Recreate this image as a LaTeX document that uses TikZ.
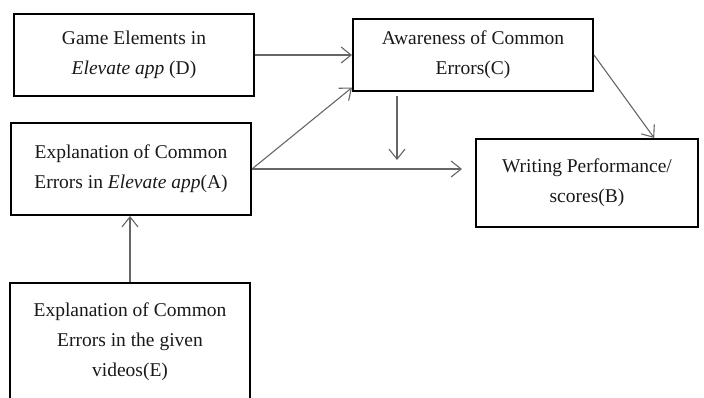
\documentclass[tikz,border=0pt]{standalone}
\usepackage{fontspec}
\setmainfont{Liberation Serif}
\usetikzlibrary{arrows.meta, calc}

\begin{document}
\begin{tikzpicture}[x=1pt, y=-1pt,
  box/.style={draw=black, line width=2pt, align=center, inner sep=0pt,
    text=black!90, font=\fontsize{19.5}{30}\selectfont},
  arr/.style={draw=black!60, line width=1.1pt, -{Straight Barb[length=10pt,width=16pt]}}]
\useasboundingbox (0,0) rectangle (704,397);
\clip (0,0) rectangle (704,397);
\node[box, minimum width=240, minimum height=82] (d) at (134,55) {Game Elements in\\\textit{Elevate app} (D)};
\node[box, minimum width=240, minimum height=92] (a) at (131,169) {Explanation of Common\\Errors in \textit{Elevate app}(A)};
\node[box, minimum width=240, minimum height=72] (c) at (473,55) {Awareness of Common\\Errors(C)};
\node[box, minimum width=222, minimum height=88] (b) at (587,183) {Writing Performance/\\scores(B)};
\node[box, minimum width=240, minimum height=118] (e) at (130,342) {Explanation of Common\\Errors in the given\\videos(E)};
\coordinate (bin) at (462,169);
\coordinate (mtop) at (397,96);
\coordinate (mbot) at (397,160);
\draw[arr] (d) -- (c);
\draw[arr] (a.east) -- ($(c.south west)!0.06!(c.north west)$);
\draw[arr] (a.east) -- (bin);
\draw[arr] (mtop) -- (mbot);
\draw[arr] (c.east) -- ($(b.north west)!0.8!(b.north east)$);
\draw[arr] (e.north) -- (e.north |- a.south);
\end{tikzpicture}
\end{document}
